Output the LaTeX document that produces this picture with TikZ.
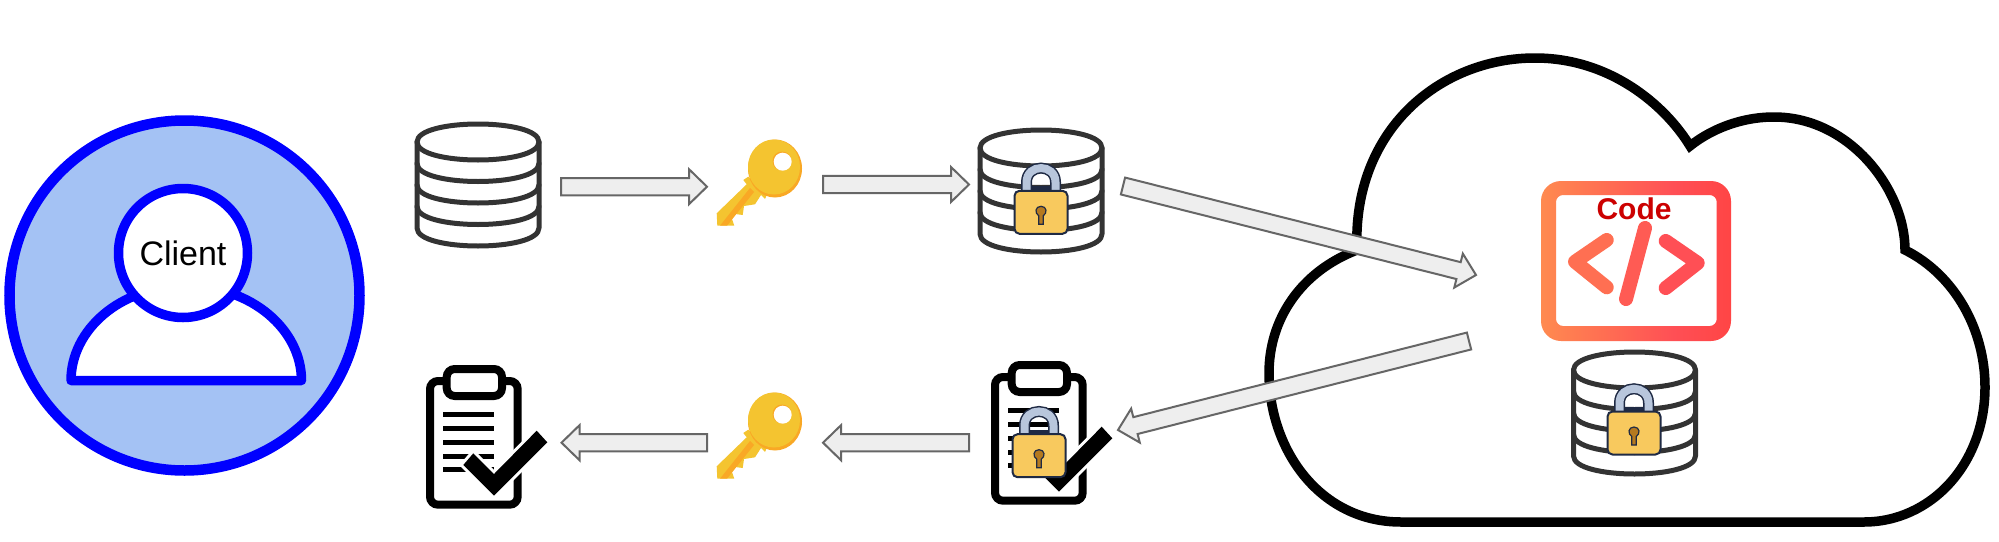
\documentclass[tikz,border=0pt]{standalone}
\usepackage{fontspec}
\setmainfont{Liberation Sans}
\usetikzlibrary{calc}
\definecolor{clientfill}{HTML}{A4C2F4}
\definecolor{clientblue}{HTML}{0000FF}
\definecolor{dbgrey}{HTML}{333333}
\definecolor{arrowfill}{HTML}{EEEEEE}
\definecolor{arrowline}{HTML}{666666}
\definecolor{lockbody}{HTML}{F8C95E}
\definecolor{lockline}{HTML}{1F2A44}
\definecolor{shackle}{HTML}{B8C6DC}
\definecolor{keyholec}{HTML}{B5791F}
\definecolor{keyyellow}{HTML}{F4C430}
\definecolor{keyorange}{HTML}{F9A825}
\definecolor{codeA}{HTML}{FF8A50}
\definecolor{codeB}{HTML}{FF4F55}
\definecolor{codeC}{HTML}{FF4545}
\definecolor{codered}{HTML}{CC0000}
\pgfdeclarehorizontalshading{codegrad}{100bp}{color(0bp)=(codeA); color(25bp)=(codeA); color(60bp)=(codeB); color(75bp)=(codeC); color(100bp)=(codeC)}
\newcommand{\blockarrow}[2]{%
  \coordinate (neck) at ($(#2)!18pt!(#1)$);
  \draw[blockarrowstyle] ($(#1)!8.7pt!90:(#2)$) -- ($(neck)!8.7pt!90:(#2)$) -- ($(neck)!17.5pt!90:(#2)$) -- (#2)
    -- ($(neck)!17.5pt!-90:(#2)$) -- ($(neck)!8.7pt!-90:(#2)$) -- ($(#1)!8.7pt!-90:(#2)$) -- cycle;}
\tikzset{
  x=1pt,y=-1pt,
  blockarrowstyle/.style={fill=arrowfill,draw=arrowline,line width=2pt,line join=miter},
  dbline/.style={draw=dbgrey,line width=5pt,line join=round,line cap=round},
  chevron/.style={line width=14pt,line cap=round,line join=round},
  db/.pic={
    \draw[dbline,fill=white] (-61,0) -- (-61,86) .. controls (-61,110) and (61,110) .. (61,86) -- (61,0)
      .. controls (61,-24) and (-61,-24) .. (-61,0) -- cycle;
    \draw[dbline] (-61,0) .. controls (-61,24) and (61,24) .. (61,0);
    \draw[dbline] (-61,21.5) .. controls (-61,45.5) and (61,45.5) .. (61,21.5);
    \draw[dbline] (-61,43) .. controls (-61,67) and (61,67) .. (61,43);
    \draw[dbline] (-61,64.5) .. controls (-61,88.5) and (61,88.5) .. (61,64.5);
  },
  lock/.pic={
    \draw[lockline,line width=11pt] (-14.5,-18) -- (-14.5,-30) .. controls (-14.5,-49) and (14.5,-49) .. (14.5,-30) -- (14.5,-18);
    \draw[shackle,line width=8pt] (-14.5,-18) -- (-14.5,-30) .. controls (-14.5,-49) and (14.5,-49) .. (14.5,-30) -- (14.5,-18);
    \fill[lockline] (-10,-26) rectangle (10,-21);
    \draw[lockline,line width=2pt,fill=lockbody,rounded corners=5pt] (-26.5,-21.5) rectangle (26.5,21.5);
    \draw[lockline,line width=1.2pt,fill=keyholec] (-2.2,12) -- (-2.2,3.5) .. controls (-6.5,1) and (-6,-6) .. (0,-6) .. controls (6,-6) and (6.5,1) .. (2.2,3.5) -- (2.2,12) -- cycle;
  },
  key/.pic={
    \fill[keyyellow] (26.3,42) -- (31.3,38.7) -- (49.7,57) -- (48,61) -- (44,57) -- (38,66.3) -- (27,68) -- (25.7,77) -- (13,75.3) -- (17.3,87.7) -- (0.3,87.7) -- (-0.3,75.3) -- (29.7,46.3) -- cycle;
    \fill[keyorange] (33,50) -- (37,54) -- (10,87.7) -- (3,87.7) -- cycle;
    \fill[keyorange] (58,30.5) ellipse[x radius=27,y radius=29];
    \fill[keyyellow] (57,29) ellipse[x radius=26,y radius=27.5];
    \fill[keyorange] (65,23) circle[radius=9.5];
    \fill[white] (65.7,23.7) circle[radius=9];
  },
  clipboard/.pic={
    \draw[black,line width=8pt,rounded corners=8pt] (-9,19) rectangle (78.7,142.7);
    \draw[black,line width=8pt,fill=white,rounded corners=8pt] (7.7,7) rectangle (63,34);
    \foreach \ly in {52,66,80,94,107.3}
      \draw[black,line width=5pt] (4,\ly) -- (55,\ly);
    \draw[white,line width=6pt,line join=miter] (24.3,103) -- (34.3,91.3) -- (55,112) -- (97.7,68.7) -- (108.3,80.3) -- (55,133.7) -- cycle;
    \fill[black] (24.3,103) -- (34.3,91.3) -- (55,112) -- (97.7,68.7) -- (108.3,80.3) -- (55,133.7) -- cycle;
  }
}
\begin{document}
\begin{tikzpicture}
\useasboundingbox (0,0) rectangle (1999,541);
\fill[white] (0,0) rectangle (1999,541);

% client
\node[circle,draw=clientblue,fill=clientfill,line width=10.5pt,minimum size=350pt,inner sep=0pt] (clientbg) at (184.5,295.5) {};
\draw[draw=clientblue,fill=white,line width=9.5pt,line join=round] (71,380.5)
  .. controls (71,330) and (120,286) .. (186,286) .. controls (252,286) and (301.5,330) .. (301.5,380.5) -- cycle;
\node[circle,draw=clientblue,fill=white,line width=9.5pt,minimum size=129pt,inner sep=0pt,font=\fontsize{34}{34}\selectfont] (head) at (183,253) {Client};

% cloud
\draw[black,line width=9.5pt,fill=white,line join=miter] (1401,522)
  .. controls (1320,522) and (1269,450) .. (1269,373)
  .. controls (1269,320) and (1300,272) .. (1357,250)
  .. controls (1352,130) and (1440,58) .. (1535,58)
  .. controls (1610,58) and (1665,105) .. (1690,146)
  .. controls (1710,130) and (1740,117) .. (1774,117)
  .. controls (1850,117) and (1905,190) .. (1905,250)
  .. controls (1955,275) and (1985,330) .. (1985,387)
  .. controls (1985,465) and (1930,522) .. (1864,522) -- cycle;

% icons
\pic (dbA) at (478,142) {db};
\pic (keyA) at (717,138) {key};
\pic (dbB) at (1041,148) {db};
\pic (lockB) at (1041,212.3) {lock};
\pic (dbC) at (1634.5,370) {db};
\pic (lockC) at (1634,433) {lock};
\pic (keyB) at (717,391) {key};
\pic (clipA) at (439,362) {clipboard};
\pic (clipB) at (1004,358) {clipboard};
\pic (lockD) at (1039,455.7) {lock};

% code box
\shade[shading=codegrad,even odd rule] [rounded corners=20pt] (1541,181) rectangle (1731,341)
  [rounded corners=7pt] (1556,195) rectangle (1716.7,326);
\draw[chevron,draw=codeA!55!codeB] (1606.7,240) -- (1575,261.7) -- (1606.7,287.3);
\draw[chevron,draw=codeA!20!codeB] (1645,228) -- (1626,299);
\draw[chevron,draw=codeB] (1665.7,241) -- (1697.7,263) -- (1665.7,288);
\node[font=\bfseries\fontsize{30}{30}\selectfont,text=codered,inner sep=0pt,anchor=base] (codelabel) at (1634,219) {Code};

% connectors
\coordinate (a1) at (561,186.7); \coordinate (b1) at (707,186.7);
\coordinate (a2) at (823,184.5); \coordinate (b2) at (969,184.5);
\coordinate (a3) at (1123,186); \coordinate (b3) at (1476,275);
\coordinate (a4) at (1469,341); \coordinate (b4) at (1118,430);
\coordinate (a5) at (969,442.7); \coordinate (b5) at (823,442.7);
\coordinate (a6) at (707,442.7); \coordinate (b6) at (561.5,442.7);
\blockarrow{a1}{b1}
\blockarrow{a2}{b2}
\blockarrow{a3}{b3}
\blockarrow{a4}{b4}
\blockarrow{a5}{b5}
\blockarrow{a6}{b6}
\end{tikzpicture}
\end{document}
